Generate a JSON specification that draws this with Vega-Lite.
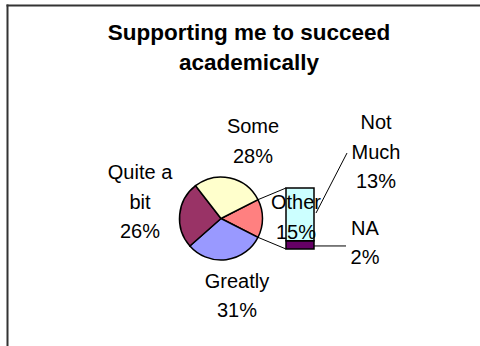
{
  "$schema": "https://vega.github.io/schema/vega-lite/v6.json",
  "width": 480,
  "height": 346,
  "autosize": {"type": "none"},
  "padding": 0,
  "background": "white",
  "title": {
    "text": ["Supporting me to succeed", "academically"],
    "font": "Liberation Sans",
    "fontSize": 22.5,
    "fontWeight": "bold",
    "lineHeight": 30,
    "color": "black",
    "anchor": "middle",
    "dx": 9,
    "offset": -74
  },
  "config": {
    "view": {"stroke": null},
    "text": {"font": "Liberation Sans", "fontSize": 20, "lineHeight": 29.5, "lineBreak": "\n", "color": "black", "align": "center", "baseline": "middle"}
  },
  "data": {"values": [{}]},
  "datasets": {
    "pie": [
      {"category": "Other", "value": 15, "n": 1, "label": "Other\n15%"},
      {"category": "Greatly", "value": 31, "n": 2, "label": "Greatly\n31%"},
      {"category": "Quite a bit", "value": 26, "n": 3, "label": "Quite a\nbit\n26%"},
      {"category": "Some", "value": 28, "n": 4, "label": "Some\n28%"}
    ],
    "bar": [
      {"category": "NA", "value": 2, "n": 1, "label": "NA\n2%"},
      {"category": "Not Much", "value": 13, "n": 2, "label": "Not\nMuch\n13%"}
    ]
  },
  "layer": [
    {
      "mark": {"type": "rule", "color": "#333333", "strokeWidth": 2},
      "encoding": {
        "x": {"datum": 6.5, "type": "quantitative", "scale": {"domain": [0, 480], "nice": false, "zero": false}, "axis": null},
        "x2": {"datum": 480},
        "y": {"datum": 59.9, "type": "quantitative", "scale": {"domain": [-23.85, 61.23], "nice": false, "zero": false}, "axis": null}
      }
    },
    {
      "mark": {"type": "rule", "color": "#333333", "strokeWidth": 2},
      "encoding": {
        "x": {"datum": 7.5, "type": "quantitative"},
        "y": {"datum": 60.1, "type": "quantitative"},
        "y2": {"datum": -23.85}
      }
    },
    {
      "mark": {"type": "rule", "color": "black", "strokeWidth": 1},
      "encoding": {
        "x": {"datum": 258, "type": "quantitative"},
        "x2": {"datum": 286},
        "y": {"datum": 12.13, "type": "quantitative"},
        "y2": {"datum": 15}
      }
    },
    {
      "mark": {"type": "rule", "color": "black", "strokeWidth": 1},
      "encoding": {
        "x": {"datum": 258, "type": "quantitative"},
        "x2": {"datum": 286},
        "y": {"datum": 2.87, "type": "quantitative"},
        "y2": {"datum": 0}
      }
    },
    {
      "data": {"name": "pie"},
      "mark": {"type": "arc", "radius": 41.5, "stroke": "black", "strokeWidth": 1.5},
      "encoding": {
        "theta": {"field": "value", "type": "quantitative", "stack": true, "scale": {"range": [1.0996, 7.3828]}},
        "order": {"field": "n", "type": "quantitative"},
        "color": {
          "field": "category",
          "type": "nominal",
          "scale": {
            "domain": ["Some", "Other", "Greatly", "Quite a bit", "Not Much", "NA"],
            "range": ["#FFFFCC", "#FF8080", "#9999FF", "#993366", "#CCFFFF", "#660066"]
          },
          "legend": null
        },
        "x": {"datum": 221, "type": "quantitative"},
        "y": {"datum": 7.5, "type": "quantitative"}
      }
    },
    {
      "data": {"name": "bar"},
      "transform": [
        {"stack": "value", "groupby": [], "sort": [{"field": "n", "order": "ascending"}], "as": ["v0", "v1"]}
      ],
      "mark": {"type": "rect", "stroke": "black", "strokeWidth": 1.5},
      "encoding": {
        "x": {"datum": 286, "type": "quantitative"},
        "x2": {"datum": 314},
        "y": {"field": "v0", "type": "quantitative"},
        "y2": {"field": "v1"},
        "color": {"field": "category", "type": "nominal", "legend": null}
      }
    },
    {
      "mark": {"type": "rule", "color": "black", "strokeWidth": 1},
      "encoding": {
        "x": {"datum": 316, "type": "quantitative"},
        "x2": {"datum": 347},
        "y": {"datum": 8.85, "type": "quantitative"},
        "y2": {"datum": 23.6}
      }
    },
    {
      "mark": {"type": "rule", "color": "black", "strokeWidth": 1},
      "encoding": {
        "x": {"datum": 314, "type": "quantitative"},
        "x2": {"datum": 346},
        "y": {"datum": 0.75, "type": "quantitative"}
      }
    },
    {
      "data": {"name": "pie"},
      "transform": [{"filter": "datum.category === 'Some'"}],
      "mark": {"type": "text"},
      "encoding": {
        "text": {"field": "label"},
        "x": {"datum": 253, "type": "quantitative"},
        "y": {"datum": 30.0, "type": "quantitative"}
      }
    },
    {
      "data": {"name": "pie"},
      "transform": [{"filter": "datum.category === 'Quite a bit'"}],
      "mark": {"type": "text"},
      "encoding": {
        "text": {"field": "label"},
        "x": {"datum": 140, "type": "quantitative"},
        "y": {"datum": 18.69, "type": "quantitative"}
      }
    },
    {
      "data": {"name": "pie"},
      "transform": [{"filter": "datum.category === 'Greatly'"}],
      "mark": {"type": "text"},
      "encoding": {
        "text": {"field": "label"},
        "x": {"datum": 237, "type": "quantitative"},
        "y": {"datum": -8.11, "type": "quantitative"}
      }
    },
    {
      "data": {"name": "pie"},
      "transform": [{"filter": "datum.category === 'Other'"}],
      "mark": {"type": "text"},
      "encoding": {
        "text": {"field": "label"},
        "x": {"datum": 296, "type": "quantitative"},
        "y": {"datum": 11.31, "type": "quantitative"}
      }
    },
    {
      "data": {"name": "bar"},
      "transform": [{"filter": "datum.category === 'NA'"}],
      "mark": {"type": "text"},
      "encoding": {
        "text": {"field": "label"},
        "x": {"datum": 365, "type": "quantitative"},
        "y": {"datum": 4.92, "type": "quantitative"}
      }
    },
    {
      "data": {"name": "bar"},
      "transform": [{"filter": "datum.category === 'Not Much'"}],
      "mark": {"type": "text"},
      "encoding": {
        "text": {"field": "label"},
        "x": {"datum": 376, "type": "quantitative"},
        "y": {"datum": 30.98, "type": "quantitative"}
      }
    }
  ]
}
